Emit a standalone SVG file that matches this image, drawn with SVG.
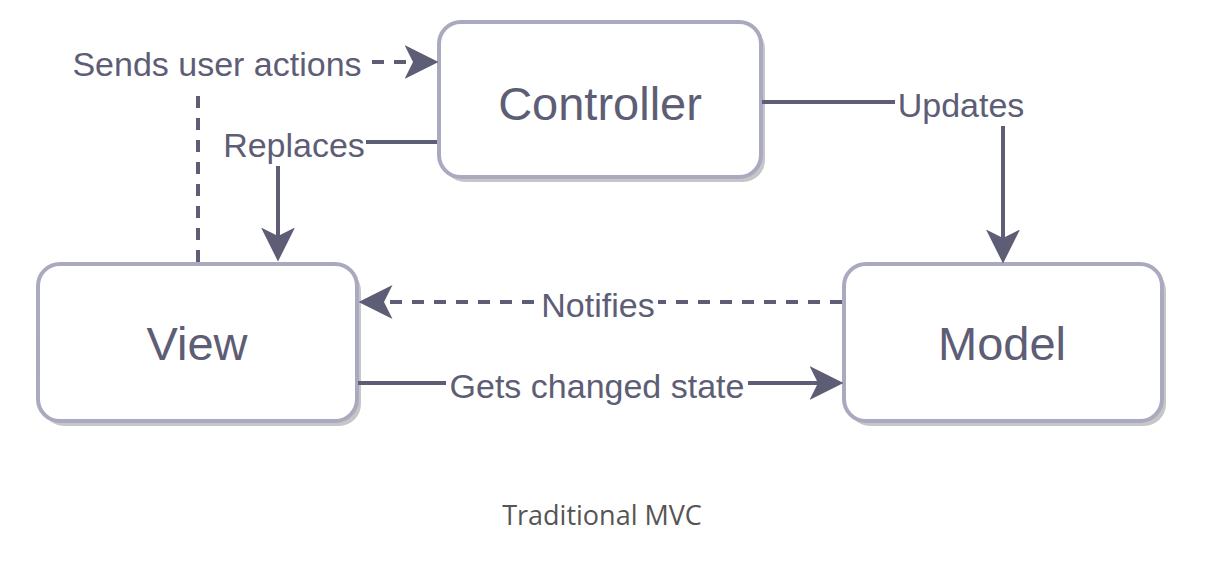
<svg xmlns="http://www.w3.org/2000/svg" width="1222" height="568" viewBox="0 0 1222 568">
<style>
.shadow{fill:#c6c6c6;}
.box{fill:#ffffff;stroke:#a9a9c0;stroke-width:4;}
.ntext{font-family:"Liberation Sans",Arial,sans-serif;font-size:47px;fill:#5d5d75;text-anchor:middle;}
.edge{fill:none;stroke:#5d5e76;stroke-width:4;}
.dash{stroke-dasharray:12 10;}
.lbg{fill:#ffffff;}
.ltext{font-family:"Liberation Sans",Arial,sans-serif;font-size:34px;fill:#5d5d75;text-anchor:middle;}
.caption{font-family:"Open Sans","Liberation Sans",sans-serif;font-size:27px;fill:#555555;text-anchor:middle;}
</style>
<defs>
<marker id="arr" markerUnits="userSpaceOnUse" markerWidth="34" markerHeight="34" viewBox="0 0 32 32" refX="8" refY="16" orient="auto">
<path d="M0,0 L32,16 L0,32 L8,16 Z" fill="#5d5e76"/>
</marker>
</defs>
<rect width="1222" height="568" fill="#ffffff"/>
<g id="controller">
<rect class="shadow" x="443" y="27" width="322" height="155" rx="22"/>
<rect class="box" x="439" y="22" width="322" height="155" rx="22"/>
<text class="ntext" x="600" y="120">Controller</text>
</g>
<g id="view">
<rect class="shadow" x="42" y="269" width="319" height="157" rx="22"/>
<rect class="box" x="38" y="264" width="319" height="157" rx="22"/>
<text class="ntext" x="197" y="360">View</text>
</g>
<g id="model">
<rect class="shadow" x="848" y="269" width="318" height="157" rx="22"/>
<rect class="box" x="844" y="264" width="318" height="157" rx="22"/>
<text class="ntext" x="1002" y="360">Model</text>
</g>
<g id="connectors">
<path class="edge dash" d="M198,262 V62 H413" marker-end="url(#arr)"/>
<path class="edge" d="M437,142 H278 V236" marker-end="url(#arr)"/>
<path class="edge" d="M762,102 H1003 V238" marker-end="url(#arr)"/>
<path class="edge dash" d="M842,302 H384" marker-end="url(#arr)"/>
<path class="edge" d="M358,383 H818" marker-end="url(#arr)"/>
<rect class="lbg" x="66" y="44" width="306" height="43"/>
<text class="ltext" x="217" y="76">Sends user actions</text>
<rect class="lbg" x="221" y="128" width="145" height="38"/>
<text class="ltext" x="294" y="157">Replaces</text>
<rect class="lbg" x="895" y="88" width="132" height="38"/>
<text class="ltext" x="961" y="117">Updates</text>
<rect class="lbg" x="537" y="286" width="121" height="38"/>
<text class="ltext" x="598" y="317">Notifies</text>
<rect class="lbg" x="446" y="367" width="302" height="40"/>
<text class="ltext" x="597" y="398">Gets changed state</text>
</g>
<text class="caption" x="602" y="525">Traditional MVC</text>
</svg>
